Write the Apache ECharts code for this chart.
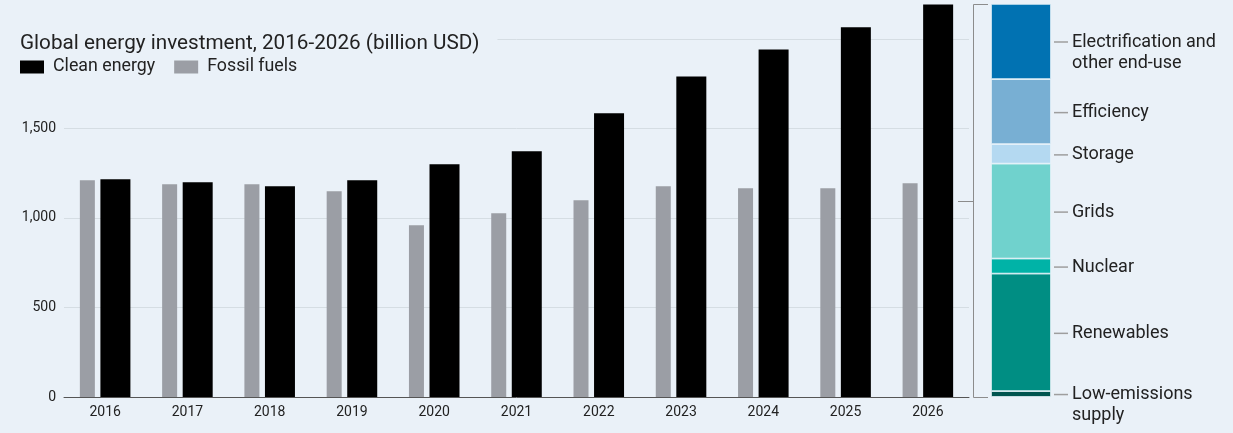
<!DOCTYPE html>
<html><head><meta charset="utf-8">
<script src="https://cdn.jsdelivr.net/npm/echarts@6/dist/echarts.min.js"></script>
<style>html,body{margin:0;padding:0;background:#eaf1f8}#c{width:1233px;height:433px}</style>
</head><body><div id="c"></div>
<script>
// ---- data ----
const years = ['2016','2017','2018','2019','2020','2021','2022','2023','2024','2025','2026'];
const cleanEnergy = [1216, 1199, 1177, 1210, 1300, 1372, 1584, 1790, 1941, 2064, 2192];
const fossilFuels = [1210, 1188, 1188, 1149, 959, 1026, 1099, 1177, 1166, 1166, 1194];
const breakdownYear = ['2026'];
const segNames = ['Low-emissions\nsupply', 'Renewables', 'Nuclear', 'Grids', 'Storage', 'Efficiency', 'Electrification and\nother end-use'];
const segValues = [33, 656, 84, 530, 109, 363, 420];
const segColors = ['#00544f', '#008e83', '#00b3a7', '#70d2cd', '#b4d9f1', '#78afd3', '#0172b2'];

const FONT = 'Roboto';
const BG = '#eaf1f8';
const Y_MAX = 2200;

const chart = echarts.init(document.getElementById('c'), null, {renderer: 'canvas'});

function segLabel(name) {
  const lines = name.split('\n');
  return lines.map((ln, i) => (i === 0 ? '{l|}' : '{s|}') + '{t|' + ln + '}').join('\n');
}

const stackSeries = segNames.map((n, i) => ({
  type: 'bar', name: n, xAxisIndex: 1, yAxisIndex: 1, stack: 'mix',
  data: [segValues[i]], barWidth: '100%',
  itemStyle: {color: segColors[i], borderColor: '#e8f4fa', borderWidth: 0.8},
  label: {
    show: true, position: 'right', distance: 3,
    offset: n.indexOf('\n') >= 0 ? [0, 11] : [0, 1],
    formatter: () => segLabel(n),
    lineHeight: 21,
    rich: {
      l: {width: 14, height: 1.5, backgroundColor: '#9e9e9e'},
      s: {width: 14},
      t: {fontSize: 18, color: '#222', padding: [0, 0, 0, 4], lineHeight: 21, fontFamily: FONT}
    }
  }
}));

const option = {
  backgroundColor: BG,
  animation: false,
  textStyle: {fontFamily: FONT},
  title: {
    text: 'Global energy investment, 2016-2026 (billion USD)',
    left: 20, top: 31, padding: [2, 18, 2, 0], backgroundColor: BG,
    textStyle: {fontSize: 20.7, fontWeight: 'normal', color: '#222', fontFamily: FONT}
  },
  legend: {
    data: ['Clean energy', 'Fossil fuels'], left: 20, top: 58, padding: 0,
    itemWidth: 24, itemHeight: 13, itemGap: 19, icon: 'rect',
    textStyle: {fontSize: 17.8, color: '#222', fontFamily: FONT, padding: [0, 0, 0, 4]}
  },
  grid: [
    {left: 64, right: 264, top: 3, bottom: 36},
    {left: 991, width: 60, top: 3, bottom: 36}
  ],
  xAxis: [
    {type: 'category', data: years, gridIndex: 0,
      axisLine: {lineStyle: {color: '#555', width: 1}}, axisTick: {show: false},
      axisLabel: {fontSize: 14, color: '#222', margin: 8, fontFamily: FONT}},
    {type: 'category', data: breakdownYear, gridIndex: 1, show: false}
  ],
  yAxis: [
    {type: 'value', gridIndex: 0, min: 0, max: Y_MAX, interval: 500,
      axisLine: {show: false}, axisTick: {show: false},
      splitLine: {lineStyle: {color: '#d5dde3', width: 1}, showMaxLine: false},
      axisLabel: {fontSize: 14, color: '#222', margin: 8, showMaxLabel: false, fontFamily: FONT,
        formatter: v => (v >= 2000 ? '' : v.toLocaleString('en-US'))}},
    {type: 'value', gridIndex: 1, min: 0, max: Y_MAX, show: false}
  ],
  series: [
    {type: 'bar', name: 'Fossil fuels', data: fossilFuels, barWidth: 15, barGap: '37%',
      itemStyle: {color: '#9b9ea5'}},
    {type: 'bar', name: 'Clean energy', data: cleanEnergy, barWidth: 30,
      itemStyle: {color: '#000000'}}
  ].concat(stackSeries)
};
chart.setOption(option);

// bracket linking the 2026 clean bar to its breakdown
const total = segValues.reduce((a, b) => a + b, 0);
const yTop = Math.round(chart.convertToPixel({yAxisIndex: 1}, total)) + 0.5;
const yBot = Math.round(chart.convertToPixel({yAxisIndex: 1}, 0)) + 0.5;
const yMid = Math.round((yTop + yBot) / 2) + 0.5;
chart.setOption({
  graphic: [
    {type: 'polyline', silent: true,
      shape: {points: [[988, yTop], [973.5, yTop], [973.5, yBot], [988, yBot]]},
      style: {stroke: '#8c8c8c', lineWidth: 1, fill: null}},
    {type: 'line', silent: true,
      shape: {x1: 958, y1: yMid, x2: 973.5, y2: yMid},
      style: {stroke: '#8c8c8c', lineWidth: 1}}
  ]
});
</script>
</body></html>
